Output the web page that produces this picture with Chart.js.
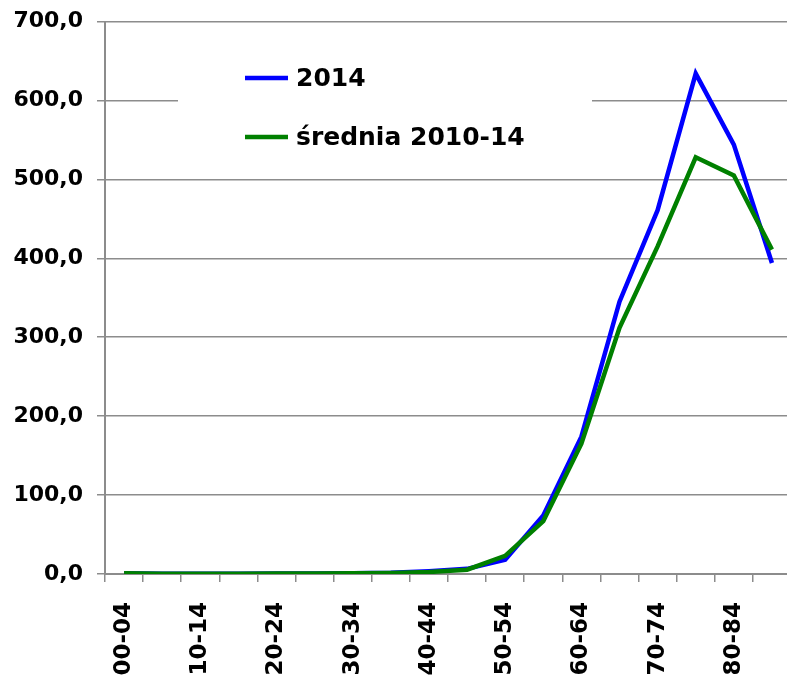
<!DOCTYPE html>
<html>
<head>
<meta charset="utf-8">
<script src="https://cdn.jsdelivr.net/npm/chart.js@4/dist/chart.umd.min.js"></script>
<style>
  html, body { margin: 0; padding: 0; overflow: hidden; background: #fff; }
  #wrap { position: relative; width: 791px; height: 679px; }
</style>
</head>
<body>
<div id="wrap"><canvas id="c"></canvas></div>
<script>
// Age groups (5-year bands)
const ageGroups = ['00-04','05-09','10-14','15-19','20-24','25-29','30-34','35-39','40-44',
                   '45-49','50-54','55-59','60-64','65-69','70-74','75-79','80-84','85+'];
// Rate in 2014
const rate2014 = [1.0, 0.3, 0.3, 0.4, 0.5, 0.6, 0.8, 1.5, 3.5, 6.5, 18, 74, 174, 345, 461, 634, 544, 394];
// Average rate 2010-14
const rateAvg = [0.8, 0.3, 0.3, 0.4, 0.5, 0.6, 0.8, 1.3, 2.5, 5.5, 23, 67, 165, 312, 415, 528, 505, 411];
const seriesNames = ['2014', 'średnia 2010-14'];
const yTicks = [0, 100, 200, 300, 400, 500, 600, 700];

const FONT = 'DejaVu Sans, Verdana, sans-serif';
const GRID = '#8c8c8c';

// Legend drawn inside the plot area on a white box
const innerLegend = {
  id: 'innerLegend',
  afterDraw(chart) {
    const ctx = chart.ctx;
    ctx.save();
    ctx.fillStyle = '#fff';
    ctx.fillRect(178, 45, 414, 120);
    const rows = [78, 137];
    chart.data.datasets.forEach((ds, i) => {
      const y = rows[i];
      ctx.strokeStyle = ds.borderColor;
      ctx.lineWidth = 4.5;
      ctx.beginPath();
      ctx.moveTo(245, y);
      ctx.lineTo(288, y);
      ctx.stroke();
      ctx.fillStyle = '#000';
      ctx.font = 'bold 25px ' + FONT;
      ctx.textBaseline = 'middle';
      ctx.textAlign = 'left';
      ctx.fillText(ds.label, 296, y + 1);
    });
    ctx.restore();
  }
};

// Keep the plot area edges fixed, independent of label overflow
const noScalePadding = s => { s.paddingTop = 0; s.paddingBottom = 0; s.paddingLeft = 0; s.paddingRight = 0; };

new Chart(document.getElementById('c'), {
  type: 'line',
  data: {
    labels: ageGroups,
    datasets: [
      { label: seriesNames[0], data: rate2014, borderColor: '#0000ff', backgroundColor: '#0000ff',
        borderWidth: 4.5, pointRadius: 0, tension: 0, borderJoinStyle: 'miter', order: 1 },
      { label: seriesNames[1], data: rateAvg, borderColor: '#008000', backgroundColor: '#008000',
        borderWidth: 4.5, pointRadius: 0, tension: 0, borderJoinStyle: 'miter', order: 0 }
    ]
  },
  options: {
    responsive: true,
    maintainAspectRatio: false,
    animation: false,
    devicePixelRatio: 1,
    layout: { padding: { top: 21.5, left: 0, right: 0, bottom: 0 } },
    plugins: { legend: { display: false }, tooltip: { enabled: false } },
    scales: {
      x: {
        type: 'category',
        offset: true,
        grid: { offset: true, drawOnChartArea: false, color: GRID, lineWidth: 1.5, tickLength: 8 },
        border: { color: GRID, width: 2 },
        ticks: {
          autoSkip: false, minRotation: 90, maxRotation: 90, padding: 20,
          color: '#000', font: { family: FONT, size: 23, weight: 'bold' },
          callback: (v, i) => (i % 2 === 0 ? ageGroups[i] : '')
        },
        afterFit: s => { s.height = 679 - 574; noScalePadding(s); }
      },
      y: {
        min: 0, max: 700,
        afterBuildTicks: s => { s.ticks = yTicks.map(v => ({ value: v })); },
        grid: { color: GRID, lineWidth: 1.5, tickLength: 8 },
        border: { color: GRID, width: 2 },
        ticks: {
          padding: 14, color: '#000', font: { family: FONT, size: 22, weight: 'bold' },
          callback: v => v.toFixed(1).replace('.', ',')
        },
        afterFit: s => { s.width = 105; noScalePadding(s); }
      }
    }
  },
  plugins: [innerLegend]
});
</script>
</body>
</html>
